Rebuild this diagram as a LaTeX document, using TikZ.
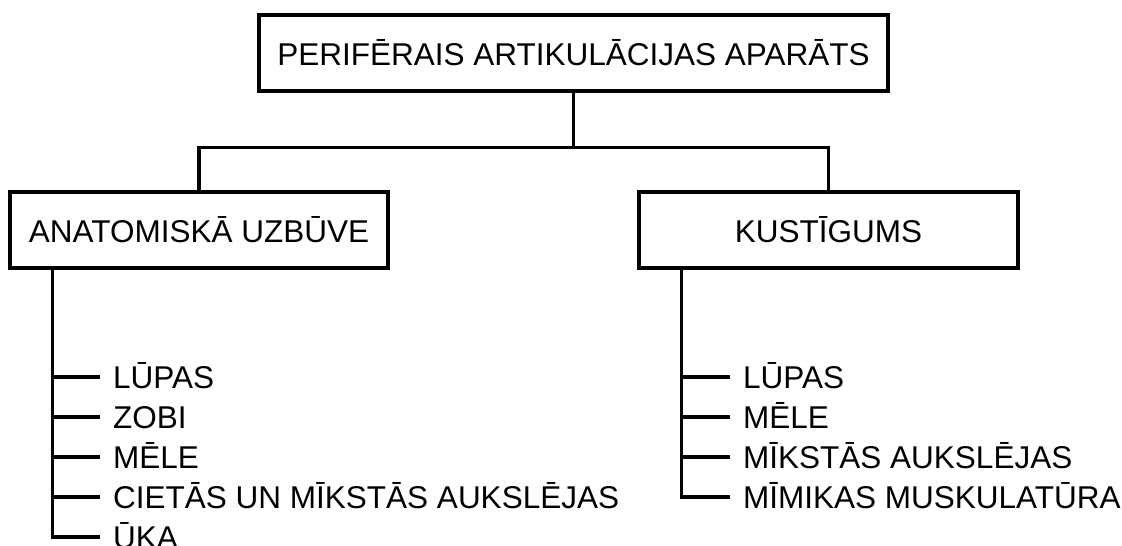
\documentclass[tikz,border=0pt]{standalone}
\usepackage{fontspec}
\setmainfont{Liberation Sans}
\begin{document}
\begin{tikzpicture}[x=1pt,y=-1pt,
  every node/.style={font=\fontsize{31.5}{37}\selectfont},
  box/.style={draw,line width=3.2pt,inner sep=0pt,minimum height=76pt,align=center},
  item/.style={anchor=west,inner xsep=13pt,inner ysep=0pt,text height=22.5pt,text depth=0pt},
  conn/.style={line width=3.2pt}]
\useasboundingbox (0,0) rectangle (1122,546);
\node[box,minimum width=629pt] (top) at (573.5,53) {PERIFĒRAIS ARTIKULĀCIJAS APARĀTS};
\node[box,minimum width=378pt] (ana) at (199,230) {ANATOMISKĀ UZBŪVE};
\node[box,minimum width=379pt] (kus) at (828.5,230) {KUSTĪGUMS};
\draw[conn] (top.south) -- ++(0,55) -| (ana.north);
\draw[conn] (top.south) -- ++(0,55) -| (kus.north);
% left items
\node[item] (a1) at (100,377) {LŪPAS};
\node[item] (a2) at (100,417) {ZOBI};
\node[item] (a3) at (100,457) {MĒLE};
\node[item] (a4) at (100,497) {CIETĀS UN MĪKSTĀS AUKSLĒJAS};
\node[item] (a5) at (100,537) {ŪKA};
\coordinate (lt) at ([xshift=44pt]ana.south west);
\draw[conn] (lt) |- (a5.west);
\foreach \i in {1,2,3,4} \draw[conn] (lt |- a\i.west) -- (a\i.west);
% right items
\node[item] (k1) at (730,377) {LŪPAS};
\node[item] (k2) at (730,417) {MĒLE};
\node[item] (k3) at (730,457) {MĪKSTĀS AUKSLĒJAS};
\node[item] (k4) at (730,497) {MĪMIKAS MUSKULATŪRA};
\coordinate (rt) at ([xshift=44pt]kus.south west);
\draw[conn] (rt) |- (k4.west);
\foreach \i in {1,2,3} \draw[conn] (rt |- k\i.west) -- (k\i.west);
\end{tikzpicture}
\end{document}
